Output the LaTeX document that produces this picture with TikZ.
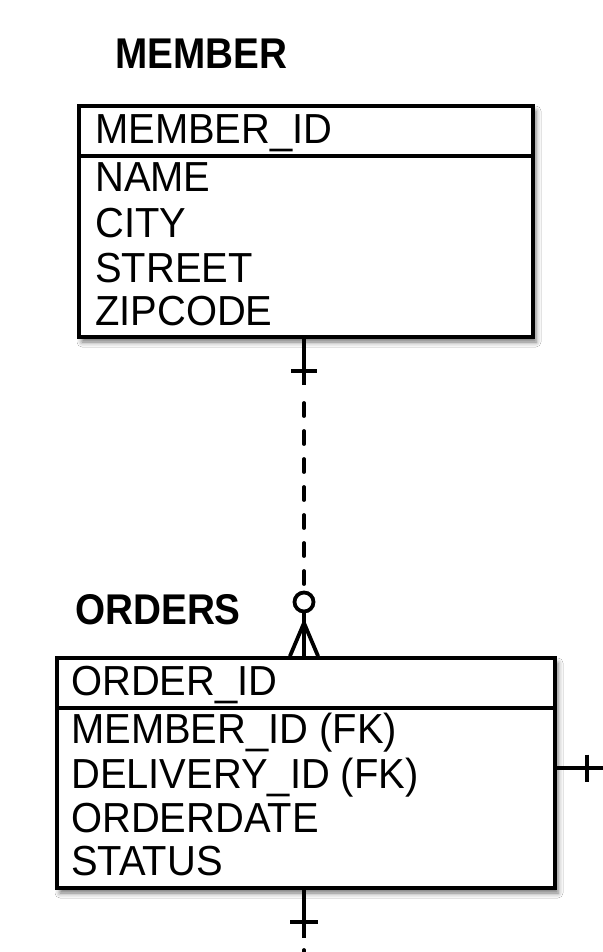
\documentclass[tikz,border=0pt]{standalone}
\usepackage{fontspec}
\setmainfont{Liberation Sans}
\newfontfamily\fieldfont[FakeStretch=0.95]{Liberation Sans}
\newfontfamily\titlefont[FakeStretch=0.90]{Liberation Sans}
\usetikzlibrary{shadows.blur}
\begin{document}
\begin{tikzpicture}[x=1pt,y=-1pt,
  ebox/.style={draw=black, line width=4pt, fill=white, inner sep=0pt, anchor=north west,
    blur shadow={shadow xshift=3pt, shadow yshift=-5pt, shadow blur radius=5pt, shadow opacity=55}},
  field/.style={anchor=base west, inner sep=0pt, font=\fieldfont\fontsize{42}{50}\selectfont},
  etitle/.style={anchor=base west, inner sep=0pt, font=\titlefont\bfseries\fontsize{43}{50}\selectfont},
  conn/.style={line width=3.8pt, draw=black},
  crow/.style={line width=3.8pt, draw=black, line cap=round}
]
\useasboundingbox (0,0) rectangle (602,952);
\fill[white] (0,0) rectangle (602,952);

% MEMBER entity
\node[etitle] (mt) at (115,69) {MEMBER};
\node[ebox, minimum width=454pt, minimum height=231pt] (m) at (77,104) {};
\coordinate (md) at (0,156);
\draw[conn, line width=4pt] (m.west |- md) -- (m.east |- md);
\node[field] (m1) at (95,144) {MEMBER\_ID};
\node[field] (m2) at (95,192) {NAME};
\node[field] (m3) at (95,237) {CITY};
\node[field] (m4) at (95,282) {STREET};
\node[field] (m5) at (95,325) {ZIPCODE};

% ORDERS entity
\node[etitle] (ot) at (75,624) {ORDERS};
\node[ebox, minimum width=498pt, minimum height=230pt] (o) at (55,656) {};
\coordinate (od) at (0,708);
\draw[conn, line width=4pt] (o.west |- od) -- (o.east |- od);
\node[field] (o1) at (71,695) {ORDER\_ID};
\node[field] (o2) at (71,743) {MEMBER\_ID (FK)};
\node[field] (o3) at (71,788) {DELIVERY\_ID (FK)};
\node[field] (o4) at (71,832) {ORDERDATE};
\node[field] (o5) at (71,875) {STATUS};

% MEMBER -- ORDERS relationship
\coordinate (t1) at (304,371);
\coordinate (d1) at (304,385);
\node[draw=black, line width=3.8pt, circle, minimum size=19pt, inner sep=0pt, fill=white] (c1) at (304,602) {};
\draw[conn] (m.south -| t1) -- (d1);
\draw[conn] ([xshift=-13pt]t1) -- ([xshift=13pt]t1);
\draw[conn, line cap=round, dash pattern=on 13pt off 15pt, dash phase=13pt] ([yshift=-3pt]d1) -- (c1.north);
\coordinate (apex) at (304,623);
\draw[conn] (c1.south) -- (c1.south |- o.north);
\draw[crow] ([xshift=-14pt]o.north -| apex) -- (apex) -- ([xshift=14pt]o.north -| apex);

% ORDERS right connector
\coordinate (rend) at (604,768);
\draw[conn] (o.east |- rend) -- (rend);
\draw[conn] ([xshift=-17pt,yshift=13.5pt]rend) -- ([xshift=-17pt,yshift=-13.5pt]rend);

% ORDERS bottom connector
\coordinate (bend) at (304,938);
\coordinate (bt) at (304,922);
\draw[conn] (o.south -| bend) -- (bend);
\draw[conn] ([xshift=-14pt]bt) -- ([xshift=14pt]bt);
\coordinate (bd1) at (304,950);
\coordinate (bd2) at (304,960);
\draw[conn, line cap=round] (bd1) -- (bd2);
\end{tikzpicture}
\end{document}
